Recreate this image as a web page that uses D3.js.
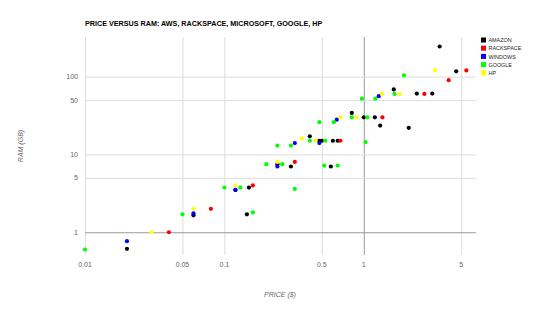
<!DOCTYPE html>
<html>
<head>
<meta charset="utf-8">
<script src="https://cdn.jsdelivr.net/npm/d3@7/dist/d3.min.js"></script>
<style>
  body { margin: 0; background: #fff; }
  text { font-family: "Liberation Sans", Arial, sans-serif; }
</style>
</head>
<body>
<div class="chart-holder"></div>
<script>
// price ($/hr) and RAM (GB) per provider
const series = ['AMAZON', 'RACKSPACE', 'WINDOWS', 'GOOGLE', 'HP'];
const colors = ['#000000', '#ff0000', '#0000ff', '#00ff00', '#ffff00'];

const amazonPrice = [0.02, 0.06, 0.12, 0.15, 0.145, 0.30, 0.24, 0.41, 0.48, 0.50, 0.60, 0.65, 0.58, 0.82, 1.0, 1.2, 1.31, 1.64, 2.4, 3.1, 2.1, 3.5, 4.6];
const amazonRam   = [0.613, 1.65, 3.5, 3.75, 1.7, 7.0, 7.5, 17.1, 15, 15, 15, 15, 7.0, 34.2, 30, 30, 23.5, 68.4, 60.5, 60.5, 22, 244, 117];

const rackspacePrice = [0.04, 0.08, 0.16, 0.32, 0.68, 1.36, 2.72, 4.06, 5.44];
const rackspaceRam   = [1, 2, 4, 8, 15, 30, 60, 90, 120];

const windowsPrice = [0.02, 0.06, 0.12, 0.24, 0.32, 0.48, 0.64, 1.28];
const windowsRam   = [0.768, 1.75, 3.5, 7, 14, 14, 28, 56];

const googlePrice = [0.01, 0.05, 0.10, 0.13, 0.16, 0.20, 0.26, 0.32, 0.24, 0.30, 0.41, 0.53, 0.52, 0.65, 0.48, 0.61, 0.82, 1.06, 0.97, 1.21, 1.66, 1.94, 1.03];
const googleRam   = [0.6, 1.7, 3.75, 3.75, 1.8, 7.5, 7.5, 3.6, 13, 13, 15, 15, 7.2, 7.2, 26, 26, 30, 30, 52, 52, 60, 104, 14.4];

const hpPrice = [0.03, 0.06, 0.12, 0.24, 0.36, 0.45, 0.68, 0.89, 1.35, 1.81, 3.24];
const hpRam   = [1, 2, 4, 8, 16, 15, 30, 30, 60, 60, 120];

const xTicks = [0.01, 0.05, 0.1, 0.5, 1, 5];
const yTicks = [1, 5, 10, 50, 100];

const prices = [amazonPrice, rackspacePrice, windowsPrice, googlePrice, hpPrice];
const rams = [amazonRam, rackspaceRam, windowsRam, googleRam, hpRam];

const svg = d3.select('.chart-holder')
  .append('svg')
  .attr('width', 535)
  .attr('height', 312);

const plot = {left: 85, right: 476, top: 37, bottom: 255};

const xScale = d3.scaleLog()
  .domain([0.01, 6.38])
  .range([plot.left, plot.right]);
const yScale = d3.scaleLog()
  .domain([0.51, 323])
  .range([plot.bottom, plot.top]);

// gridlines
svg.append('g')
  .call(d3.axisBottom(xScale).tickValues(xTicks).tickSize(plot.bottom - plot.top).tickFormat(''))
  .attr('transform', `translate(0,${plot.top})`)
  .call(g => g.select('.domain').remove())
  .selectAll('line')
  .attr('stroke', d => d === 1 ? '#999' : '#ddd');

svg.append('g')
  .call(d3.axisLeft(yScale).tickValues(yTicks).tickSize(-(plot.right - plot.left)).tickFormat(''))
  .attr('transform', `translate(${plot.left},0)`)
  .call(g => g.select('.domain').remove())
  .selectAll('line')
  .attr('stroke', d => d === 1 ? '#999' : '#ddd');

// tick labels
svg.append('g')
  .selectAll('text')
  .data(xTicks)
  .enter().append('text')
  .attr('x', d => xScale(d))
  .attr('y', 267)
  .attr('text-anchor', 'middle')
  .attr('font-size', 7)
  .attr('fill', '#666')
  .text(d => d);

svg.append('g')
  .selectAll('text')
  .data(yTicks)
  .enter().append('text')
  .attr('x', 78)
  .attr('y', d => yScale(d) + 2.5)
  .attr('text-anchor', 'end')
  .attr('font-size', 7)
  .attr('fill', '#666')
  .text(d => d);

// points, one series at a time
series.forEach((name, i) => {
  svg.append('g')
    .selectAll('circle')
    .data(d3.range(prices[i].length))
    .enter().append('circle')
    .attr('cx', j => xScale(prices[i][j]))
    .attr('cy', j => yScale(rams[i][j]))
    .attr('r', 2.1)
    .attr('fill', colors[i]);
});

// title
svg.append('text')
  .attr('x', 85)
  .attr('y', 26)
  .attr('font-size', 7.2)
  .attr('font-weight', 'bold')
  .attr('fill', '#000')
  .text('PRICE VERSUS RAM: AWS, RACKSPACE, MICROSOFT, GOOGLE, HP');

// axis titles
svg.append('text')
  .attr('x', 280)
  .attr('y', 297)
  .attr('text-anchor', 'middle')
  .attr('font-size', 7)
  .attr('font-style', 'italic')
  .attr('fill', '#666')
  .text('PRICE ($)');

svg.append('text')
  .attr('transform', 'translate(23,146) rotate(-90)')
  .attr('text-anchor', 'middle')
  .attr('font-size', 7)
  .attr('font-style', 'italic')
  .attr('fill', '#666')
  .text('RAM (GB)');

// legend
const legend = svg.append('g')
  .selectAll('g')
  .data(series)
  .enter().append('g')
  .attr('transform', (d, i) => `translate(481,${37.5 + i * 8.2})`);

legend.append('rect')
  .attr('width', 5)
  .attr('height', 5)
  .attr('fill', (d, i) => colors[i]);

legend.append('text')
  .attr('x', 7.5)
  .attr('y', 4.6)
  .attr('font-size', 5.4)
  .attr('fill', '#222')
  .text(d => d);
</script>
</body>
</html>
